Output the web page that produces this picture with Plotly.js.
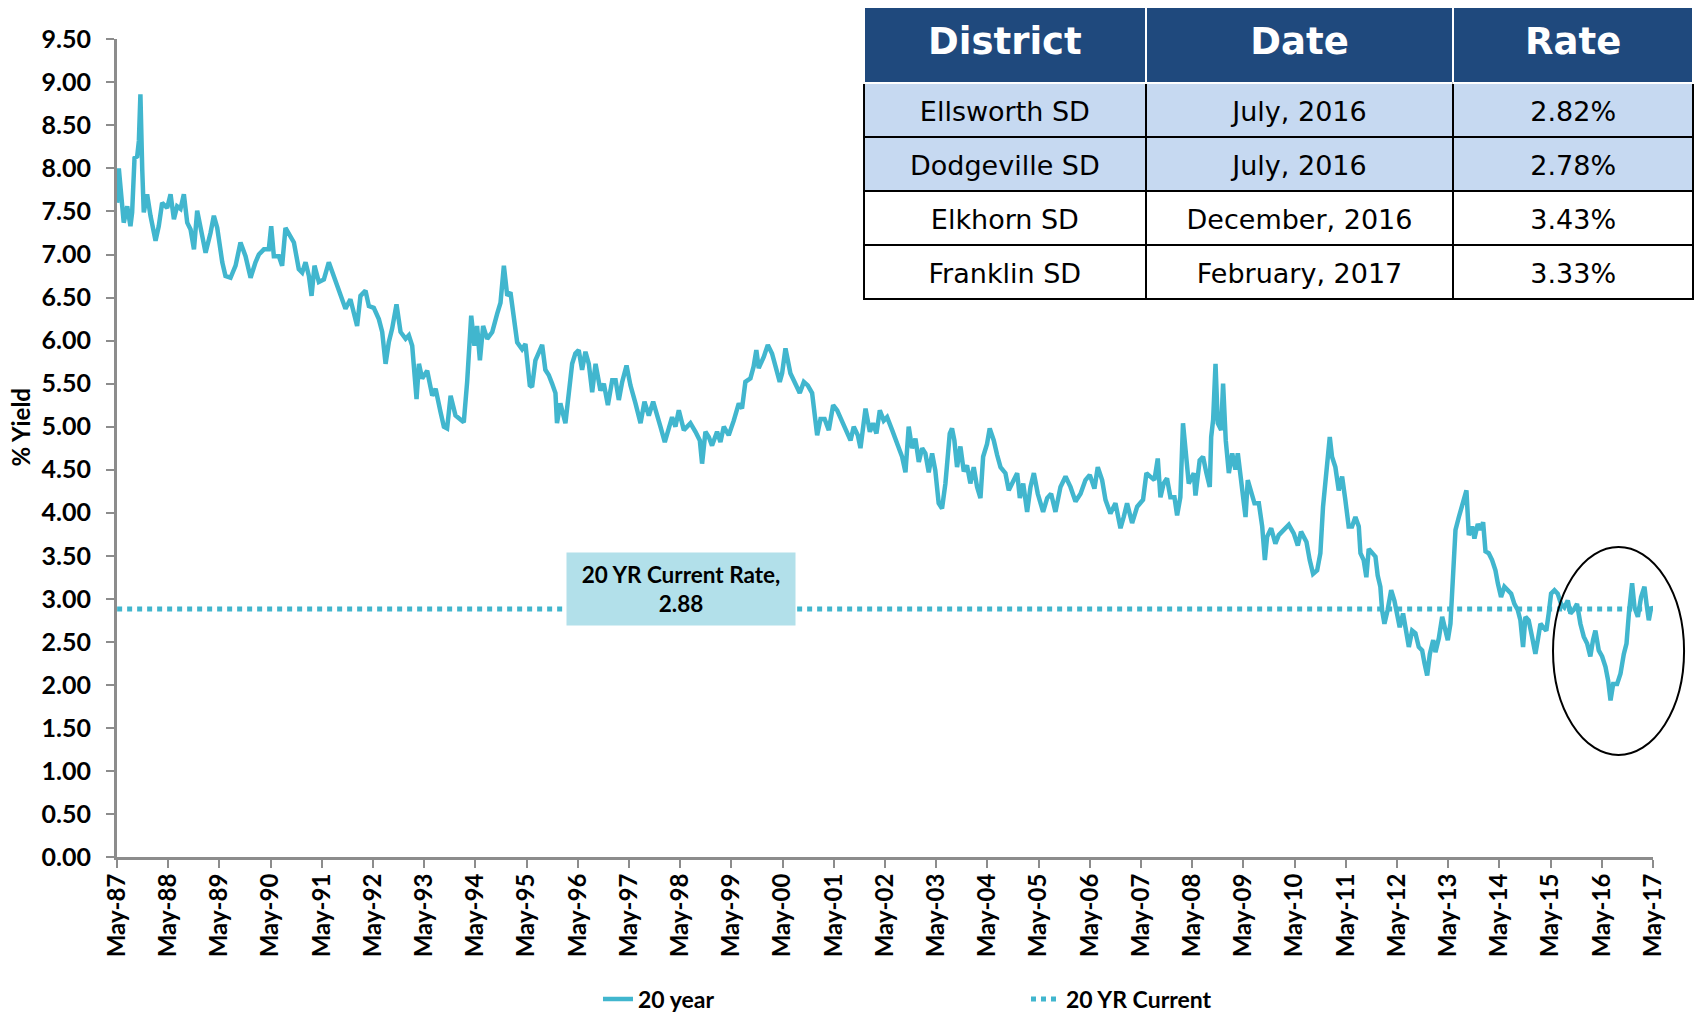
<!DOCTYPE html>
<html>
<head>
<meta charset="utf-8">
<script src="https://cdn.plot.ly/plotly-3.0.1.min.js"></script>
<style>
  html, body { margin: 0; padding: 0; background: #fff; }
  #chart { width: 1694px; height: 1013px; }
</style>
</head>
<body>
<div id="chart"></div>
<script>
// 20 year yield (decimal year, % yield)
const years = [
  1987.333,1987.366,1987.463,1987.529,1987.594,1987.626,1987.672,1987.724,1987.757,1987.789,
  1987.822,1987.854,1987.919,1987.984,1988.082,1988.147,1988.212,1988.310,1988.375,1988.440,
  1988.505,1988.570,1988.635,1988.700,1988.766,1988.831,1988.896,1988.993,1989.058,1989.156,
  1989.221,1989.286,1989.384,1989.449,1989.547,1989.644,1989.742,1989.840,1989.937,1990.035,
  1990.100,1990.198,1990.295,1990.341,1990.393,1990.491,1990.556,1990.621,1990.719,1990.784,
  1990.881,1990.947,1991.012,1991.077,1991.129,1991.187,1991.272,1991.370,1991.467,1991.565,
  1991.695,1991.793,1991.890,1992.021,1992.086,1992.184,1992.249,1992.346,1992.444,1992.509,
  1992.574,1992.639,1992.704,1992.789,1992.867,1992.965,1993.030,1993.095,1993.180,1993.225,
  1993.290,1993.388,1993.486,1993.551,1993.648,1993.713,1993.778,1993.844,1993.941,1994.039,
  1994.104,1994.169,1994.247,1994.312,1994.364,1994.417,1994.482,1994.560,1994.658,1994.755,
  1994.820,1994.885,1994.951,1995.016,1995.081,1995.146,1995.243,1995.309,1995.393,
  1995.438,1995.503,1995.568,1995.633,1995.698,1995.763,1995.828,1995.894,1995.926,1995.991,
  1996.089,1996.154,1996.219,1996.284,1996.349,1996.414,1996.480,1996.545,1996.610,1996.675,
  1996.773,1996.838,1996.916,1997.000,1997.066,1997.131,1997.196,1997.280,1997.358,1997.456,
  1997.554,1997.632,1997.717,1997.801,1997.879,1997.944,1998.029,1998.107,1998.172,1998.237,
  1998.302,1998.400,1998.530,1998.628,1998.713,1998.758,1998.823,1998.888,1998.953,1999.051,
  1999.116,1999.181,1999.279,1999.377,1999.474,1999.539,1999.604,1999.702,1999.767,1999.819,
  1999.865,1999.963,2000.041,2000.125,2000.190,2000.275,2000.321,2000.386,2000.483,2000.581,
  2000.666,2000.744,2000.822,2000.907,2000.952,2001.004,2001.069,2001.148,2001.232,2001.317,
  2001.395,2001.493,2001.590,2001.655,2001.720,2001.798,2001.851,2001.948,2002.033,2002.098,
  2002.163,2002.228,2002.306,2002.371,2002.469,2002.567,2002.664,2002.729,2002.794,2002.860,
  2002.925,2002.990,2003.055,2003.120,2003.185,2003.250,2003.315,2003.380,
  2003.446,2003.511,2003.557,2003.596,2003.641,2003.687,2003.739,2003.804,2003.869,2003.934,
  2003.999,2004.064,2004.129,2004.195,2004.247,2004.325,2004.377,2004.455,2004.520,2004.585,
  2004.683,2004.748,2004.846,2004.911,2004.963,2005.028,2005.106,2005.171,2005.236,2005.314,
  2005.418,2005.497,2005.575,2005.659,2005.757,2005.855,2005.952,2006.050,2006.148,2006.245,
  2006.330,2006.421,2006.486,2006.571,2006.636,2006.734,2006.831,2006.929,2006.994,2007.059,
  2007.157,2007.255,2007.372,2007.437,2007.515,2007.593,2007.658,2007.710,2007.775,2007.840,
  2007.906,2007.984,2008.036,2008.101,2008.153,2008.218,2008.264,2008.361,2008.394,2008.478,
  2008.543,2008.609,2008.674,2008.700,2008.739,2008.785,2008.830,2008.895,2008.934,2008.986,
  2009.045,2009.110,2009.175,2009.221,2009.305,2009.370,2009.416,2009.481,2009.546,2009.631,
  2009.696,2009.748,2009.794,2009.872,2009.956,2010.021,2010.119,2010.217,2010.314,2010.392,
  2010.457,2010.562,2010.627,2010.692,2010.770,2010.835,2010.887,2010.952,2011.017,2011.063,
  2011.128,2011.193,2011.258,2011.323,2011.388,
  2011.454,2011.519,2011.584,2011.617,2011.682,2011.734,2011.779,2011.844,2011.910,2011.955,
  2012.007,2012.040,2012.085,2012.150,2012.216,2012.281,2012.333,2012.385,2012.450,2012.515,
  2012.561,2012.626,2012.691,2012.756,2012.821,2012.867,2012.919,2012.971,2013.036,2013.082,
  2013.147,2013.212,2013.277,2013.322,2013.374,2013.426,2013.472,2013.537,2013.583,2013.635,
  2013.687,2013.733,2013.798,2013.843,2013.908,2013.960,2014.013,2014.058,2014.123,2014.188,
  2014.253,2014.299,2014.364,2014.429,2014.494,2014.559,2014.624,2014.690,2014.742,2014.794,
  2014.839,2014.904,2014.969,2015.035,2015.080,2015.132,2015.184,2015.249,2015.295,2015.341,
  2015.406,2015.471,2015.536,2015.601,2015.666,2015.718,2015.783,2015.848,2015.914,2015.979,
  2016.044,2016.109,2016.161,2016.207,2016.272,2016.337,2016.403,2016.454,2016.500,2016.552,
  2016.630,2016.695,2016.760,2016.812,2016.858,2016.923,2016.968,2017.033,2017.098,2017.164,
  2017.203,2017.249,2017.294,2017.346
];
const yield20 = [
  7.60,8.00,7.37,7.56,7.33,7.49,8.12,8.14,8.32,8.86,
  7.99,7.49,7.70,7.45,7.16,7.33,7.60,7.54,7.70,7.41,
  7.56,7.53,7.70,7.37,7.29,7.06,7.51,7.25,7.02,7.25,
  7.45,7.31,6.91,6.75,6.73,6.87,7.14,6.98,6.73,6.91,
  7.00,7.06,7.06,7.33,6.98,6.98,6.87,7.31,7.22,7.14,
  6.83,6.79,6.91,6.75,6.52,6.87,6.68,6.71,6.91,6.75,
  6.56,6.37,6.48,6.17,6.52,6.58,6.40,6.38,6.25,6.10,
  5.73,5.98,6.14,6.42,6.10,6.02,6.06,5.94,5.32,5.73,
  5.56,5.65,5.36,5.44,5.17,5.00,4.98,5.36,5.13,5.09,
  5.05,5.52,6.29,5.94,6.17,5.77,6.17,6.02,6.10,6.31,
  6.44,6.87,6.52,6.56,6.29,5.98,5.90,5.96,5.48,
  5.46,5.77,5.85,5.95,5.66,5.60,5.50,5.39,5.04,5.27,
  5.04,5.35,5.73,5.85,5.89,5.66,5.87,5.73,5.40,5.73,
  5.42,5.50,5.25,5.54,5.54,5.31,5.52,5.71,5.48,5.27,
  5.04,5.29,5.13,5.29,5.11,5.00,4.82,5.00,5.11,5.00,
  5.19,4.96,5.04,4.94,4.84,4.57,4.94,4.88,4.78,4.94,
  4.82,5.00,4.90,5.07,5.27,5.21,5.52,5.56,5.70,5.89,
  5.68,5.81,5.95,5.85,5.70,5.52,5.62,5.91,5.62,5.48,
  5.39,5.52,5.48,5.39,5.11,4.90,5.09,5.09,4.96,5.25,
  5.19,5.07,4.94,4.84,5.00,4.90,4.75,5.21,4.94,5.04,
  4.92,5.19,5.07,5.11,4.96,4.82,4.65,4.47,5.00,4.75,
  4.86,4.59,4.75,4.69,4.47,4.69,4.49,4.11,
  4.05,4.34,4.65,4.92,4.98,4.84,4.53,4.77,4.48,4.55,
  4.34,4.53,4.30,4.17,4.65,4.80,4.98,4.84,4.67,4.53,
  4.46,4.26,4.38,4.46,4.17,4.34,4.01,4.30,4.46,4.22,
  4.01,4.17,4.22,4.01,4.30,4.42,4.30,4.13,4.22,4.38,
  4.44,4.28,4.53,4.38,4.15,3.99,4.11,3.82,3.95,4.11,
  3.88,4.07,4.15,4.46,4.42,4.38,4.63,4.18,4.34,4.40,
  4.18,4.18,3.97,4.18,5.04,4.65,4.34,4.46,4.20,4.61,
  4.65,4.46,4.30,4.88,5.08,5.73,5.04,4.96,5.50,4.84,
  4.46,4.69,4.50,4.69,4.26,3.95,4.38,4.22,4.11,4.11,
  3.84,3.45,3.72,3.82,3.64,3.74,3.80,3.86,3.76,3.62,
  3.78,3.66,3.45,3.29,3.33,3.53,4.07,4.53,4.88,4.65,
  4.53,4.26,4.42,4.15,3.84,
  3.84,3.95,3.84,3.53,3.45,3.25,3.58,3.53,3.49,3.27,
  3.14,2.87,2.71,2.87,3.10,2.98,2.83,2.67,2.83,2.56,
  2.44,2.63,2.60,2.44,2.40,2.25,2.11,2.36,2.52,2.38,
  2.54,2.79,2.60,2.52,2.71,3.18,3.80,3.95,4.03,4.15,
  4.26,3.74,3.84,3.70,3.87,3.80,3.89,3.55,3.53,3.45,
  3.33,3.18,3.02,3.14,3.10,3.06,2.94,2.87,2.75,2.44,
  2.79,2.75,2.56,2.36,2.52,2.71,2.67,2.63,2.83,3.06,
  3.10,3.06,2.94,2.90,2.98,2.83,2.87,2.94,2.71,2.56,
  2.48,2.33,2.52,2.63,2.40,2.33,2.21,2.05,1.82,2.01,
  2.01,2.13,2.36,2.48,2.83,3.18,2.90,2.79,3.02,3.14,
  2.94,2.75,2.90,2.87
];

// current 20 year rate line
const currentRate = 2.88;
const currentSpan = [1987.333, 2017.346];

// table
const districts = ['Ellsworth SD', 'Dodgeville SD', 'Elkhorn SD', 'Franklin SD'];
const saleDates = ['July, 2016', 'July, 2016', 'December, 2016', 'February, 2017'];
const rates = ['2.82%', '2.78%', '3.43%', '3.33%'];
const tableHeader = ['District', 'Date', 'Rate'];

// decimal year -> yyyy-mm-dd
function yearToDate(y) {
    const yr = Math.floor(y);
    const a = Date.UTC(yr, 0, 1), b = Date.UTC(yr + 1, 0, 1);
    return new Date(a + (y - yr) * (b - a)).toISOString().slice(0, 10);
}

const lineColor = '#41b6ce';
const axisGrey = '#8c8c8c';
const labelFont = 'Lato, "Open Sans", sans-serif';
const tableFont = '"DejaVu Sans", sans-serif';

const rowFill = districts.map((d, i) => i < 2 ? '#c6d9f1' : '#ffffff');
const blank = arr => arr.map(() => '');

// table is drawn twice: fills + borders, then the text a little lower
// (plotly tables have no vertical centring)
const tableX = [0.4737, 1];
const tableY = [0.6488, 0.9924];
const textDrop = 0.014;

const traces = [
    {
        x: years.map(yearToDate),
        y: yield20,
        mode: 'lines',
        name: '20 year',
        line: {color: lineColor, width: 4.5},
        hoverinfo: 'skip'
    },
    {
        x: currentSpan.map(yearToDate),
        y: currentSpan.map(() => currentRate),
        mode: 'lines',
        name: '20 YR Current',
        line: {color: lineColor, width: 5, dash: 'dot'},
        hoverinfo: 'skip'
    },
    {
        type: 'table',
        domain: {x: tableX, y: tableY},
        columnwidth: [282, 308, 240],
        header: {
            values: blank(tableHeader),
            height: 76,
            fill: {color: '#1f497d'},
            line: {color: '#ffffff', width: 2}
        },
        cells: {
            values: [blank(districts), blank(saleDates), blank(rates)],
            height: 54,
            fill: {color: [rowFill, rowFill, rowFill]},
            line: {color: '#000000', width: 2}
        }
    },
    {
        type: 'table',
        domain: {x: tableX, y: [tableY[0] - textDrop, tableY[1] - textDrop]},
        columnwidth: [282, 308, 240],
        header: {
            values: tableHeader,
            height: 74,
            align: 'center',
            fill: {color: 'rgba(0,0,0,0)'},
            line: {width: 0, color: 'rgba(0,0,0,0)'},
            font: {family: tableFont, size: 37, color: '#ffffff', weight: 'bold'}
        },
        cells: {
            values: [districts, saleDates, rates],
            height: 54,
            align: 'center',
            fill: {color: 'rgba(0,0,0,0)'},
            line: {width: 0, color: 'rgba(0,0,0,0)'},
            font: {family: tableFont, size: 27, color: '#000000'}
        }
    }
];

const layout = {
    width: 1694,
    height: 1013,
    margin: {l: 117, r: 0, t: 0, b: 156, autoexpand: false},
    paper_bgcolor: '#ffffff',
    plot_bgcolor: '#ffffff',
    showlegend: true,
    legend: {
        orientation: 'h',
        x: 0.305,
        xanchor: 'left',
        y: -0.1657,
        yanchor: 'middle',
        entrywidth: 383,
        font: {family: labelFont, size: 23, color: '#000', weight: 'bold'}
    },
    xaxis: {
        domain: [0, 0.974],
        type: 'date',
        range: ['1987-05-01', '2017-05-01'],
        tick0: '1987-05-01',
        dtick: 'M12',
        tickformat: '%b-%y',
        tickangle: -90,
        ticks: 'outside',
        ticklen: 8,
        tickwidth: 2,
        tickcolor: axisGrey,
        ticklabelstandoff: -4,
        showline: true,
        linecolor: axisGrey,
        linewidth: 3,
        showgrid: false,
        zeroline: false,
        tickfont: {family: labelFont, size: 24, color: '#000', weight: 'bold'}
    },
    yaxis: {
        domain: [0, 0.9541],
        range: [0, 9.5],
        dtick: 0.5,
        tickformat: '.2f',
        ticks: 'outside',
        ticklen: 8,
        tickwidth: 2,
        tickcolor: axisGrey,
        ticklabelstandoff: 10,
        showline: true,
        linecolor: axisGrey,
        linewidth: 3,
        showgrid: false,
        zeroline: false,
        tickfont: {family: labelFont, size: 25, color: '#000', weight: 'bold'}
    },
    annotations: [
        {
            xref: 'paper', yref: 'paper',
            x: 0.3576, y: 0.3125,
            xanchor: 'center', yanchor: 'middle',
            text: '20 YR Current Rate,<br>2.88',
            showarrow: false,
            bgcolor: '#b2e0ea',
            width: 222, height: 66, borderpad: 3,
            font: {family: labelFont, size: 22.5, color: '#000', weight: 'bold'}
        },
        {
            xref: 'paper', yref: 'paper',
            x: -0.061, y: 0.502,
            xanchor: 'center', yanchor: 'middle',
            text: '% Yield',
            textangle: -90,
            showarrow: false,
            font: {family: labelFont, size: 24, color: '#000', weight: 'bold'}
        }
    ],
    shapes: [
        {
            type: 'circle',
            xref: 'paper', yref: 'paper',
            x0: 0.9106, x1: 0.9937, y0: 0.119, y1: 0.3617,
            line: {color: '#000', width: 2}
        }
    ]
};

Plotly.newPlot('chart', traces, layout, {displayModeBar: false, staticPlot: true});
</script>
</body>
</html>
